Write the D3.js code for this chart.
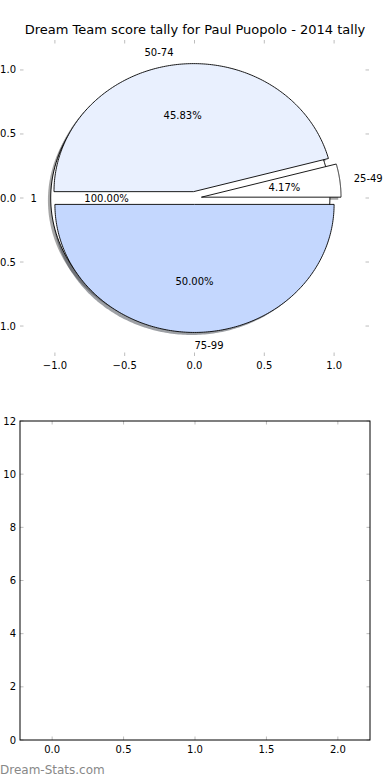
<!doctype html>
<html lang="en">
<head>
<meta charset="utf-8">
<title>Dream Team score tally</title>
<style>
  body { margin: 0; background: #fff; }
  text { font-family: "DejaVu Sans", sans-serif; fill: #000; }
</style>
<script src="https://d3js.org/d3.v7.min.js"></script>
</head>
<body>
<div id="chart"></div>
<script>
// score pie data (matplotlib order: counter-clockwise from 3 o'clock)
var scoreLabels = ["25-49", "50-74", "75-99"];
var scoreCounts = [1, 11, 12];
// second pie drawn behind it
var tallyLabels = ["1"];
var tallyCounts = [1];
// axis ticks
var pieTicks = [-1.0, -0.5, 0.0, 0.5, 1.0];
var barXTicks = [0.0, 0.5, 1.0, 1.5, 2.0];
var barYTicks = [0, 2, 4, 6, 8, 10, 12];

var scoreColors = ["#ffffff", "#e9f0fe", "#c4d7fe"];
var tallyColors = ["#ffffff"];

var W = 390, H = 780;
var svg = d3.select("#chart").append("svg")
  .attr("width", W).attr("height", H);

//---------- top: pie axes ----------
var px = d3.scaleLinear().domain([-1.25, 1.25]).range([20, 369]);
var py = d3.scaleLinear().domain([-1.234, 1.234]).range([356, 40]);

var pieG = svg.append("g");

pieG.append("text")
  .attr("x", 195).attr("y", 34)
  .attr("text-anchor", "middle")
  .attr("font-size", "13px")
  .text("Dream Team score tally for Paul Puopolo - 2014 tally");

// build wedges in data coords
function makeWedges(counts, labels, colors, explode) {
  var total = d3.sum(counts), acc = 0;
  return counts.map(function(c, i) {
    var t1 = acc / total * 2 * Math.PI;
    acc += c;
    var t2 = acc / total * 2 * Math.PI;
    var tm = (t1 + t2) / 2;
    return {
      label: labels[i], frac: c / total, color: colors[i],
      t1: t1, t2: t2, tm: tm,
      cx: explode * Math.cos(tm), cy: explode * Math.sin(tm),
      full: (t2 - t1) > 2 * Math.PI - 1e-9
    };
  });
}

function wedgePath(w, ox, oy) {
  var pts = [], n = 200;
  for (var k = 0; k <= n; k++) {
    var t = w.t1 + (w.t2 - w.t1) * k / n;
    pts.push([px(w.cx + ox + Math.cos(t)), py(w.cy + oy + Math.sin(t))]);
  }
  if (!w.full) pts.unshift([px(w.cx + ox), py(w.cy + oy)]);
  return d3.line()(pts) + "Z";
}

var tally = makeWedges(tallyCounts, tallyLabels, tallyColors, 0.03);
var score = makeWedges(scoreCounts, scoreLabels, scoreColors, 0.05);
var all = tally.concat(score);

// shadows below every wedge
pieG.selectAll(".shadow").data(all).enter().append("path")
  .attr("class", "shadow")
  .attr("d", function(w) { return wedgePath(w, -0.02, -0.02); })
  .attr("fill", function(w) {
    var c = d3.rgb(w.color);
    return d3.rgb(c.r * 0.3, c.g * 0.3, c.b * 0.3);
  })
  .attr("fill-opacity", 0.5);

pieG.selectAll(".wedge").data(all).enter().append("path")
  .attr("class", "wedge")
  .attr("d", function(w) { return wedgePath(w, 0, 0); })
  .attr("fill", function(w) { return w.color; })
  .attr("stroke", "#000")
  .attr("stroke-width", 0.9);

// labels at 1.1 radius, percentages at 0.6
all.forEach(function(w) {
  var lx = w.cx + 1.1 * Math.cos(w.tm), ly = w.cy + 1.1 * Math.sin(w.tm);
  pieG.append("text")
    .attr("x", px(lx)).attr("y", py(ly)).attr("dy", "0.35em")
    .attr("text-anchor", lx >= -1e-9 ? "start" : "end")
    .attr("font-size", "10px")
    .text(w.label);
  var tx = w.cx + 0.6 * Math.cos(w.tm), ty = w.cy + 0.6 * Math.sin(w.tm);
  pieG.append("text")
    .attr("x", px(tx)).attr("y", py(ty)).attr("dy", "0.4em")
    .attr("text-anchor", "middle")
    .attr("font-size", "10px")
    .text((w.frac * 100).toFixed(2) + "%");
});

var fmt = function(d) { return d3.format(".1f")(d).replace("-", "\u2212"); };
var tickCol = "#bdbdbd";

// pie axes ticks, no spines
pieTicks.forEach(function(t) {
  pieG.append("line").attr("x1", px(t)).attr("x2", px(t)).attr("y1", 40).attr("y2", 43.5)
    .attr("stroke", tickCol);
  pieG.append("line").attr("x1", px(t)).attr("x2", px(t)).attr("y1", 356).attr("y2", 352.5)
    .attr("stroke", tickCol);
  pieG.append("line").attr("x1", 20).attr("x2", 23.5).attr("y1", py(t)).attr("y2", py(t))
    .attr("stroke", tickCol);
  pieG.append("line").attr("x1", 369).attr("x2", 365.5).attr("y1", py(t)).attr("y2", py(t))
    .attr("stroke", tickCol);
  pieG.append("text").attr("x", px(t)).attr("y", 369)
    .attr("text-anchor", "middle").attr("font-size", "10px").text(fmt(t));
  // the reference crops the minus of the negative y labels at the page edge
  pieG.append("text").attr("x", 16).attr("y", py(t)).attr("dy", "0.35em")
    .attr("text-anchor", "end").attr("font-size", "10px").text(fmt(t));
});

//---------- bottom: empty bar axes ----------
var bx = d3.scaleLinear().domain([-0.225, 2.225]).range([20, 370]);
var by = d3.scaleLinear().domain([0, 12]).range([740, 421]);
var bot = svg.append("g");

barXTicks.forEach(function(t) {
  bot.append("line").attr("x1", bx(t)).attr("x2", bx(t)).attr("y1", 740).attr("y2", 736.5)
    .attr("stroke", tickCol);
  bot.append("line").attr("x1", bx(t)).attr("x2", bx(t)).attr("y1", 421).attr("y2", 424.5)
    .attr("stroke", tickCol);
  bot.append("text").attr("x", bx(t)).attr("y", 753)
    .attr("text-anchor", "middle").attr("font-size", "10px").text(fmt(t));
});
barYTicks.forEach(function(t) {
  bot.append("line").attr("x1", 20).attr("x2", 23.5).attr("y1", by(t)).attr("y2", by(t))
    .attr("stroke", tickCol);
  bot.append("line").attr("x1", 370).attr("x2", 366.5).attr("y1", by(t)).attr("y2", by(t))
    .attr("stroke", tickCol);
  bot.append("text").attr("x", 16).attr("y", by(t)).attr("dy", "0.35em")
    .attr("text-anchor", "end").attr("font-size", "10px").text(t);
});

bot.append("rect")
  .attr("x", bx(-0.225)).attr("y", by(12))
  .attr("width", bx(2.225) - bx(-0.225)).attr("height", by(0) - by(12))
  .attr("fill", "none").attr("stroke", "#000").attr("stroke-width", 1);

svg.append("text")
  .attr("x", 0).attr("y", 774)
  .attr("font-size", "12px")
  .style("fill", "#888")
  .text("Dream-Stats.com");
</script>
</body>
</html>
